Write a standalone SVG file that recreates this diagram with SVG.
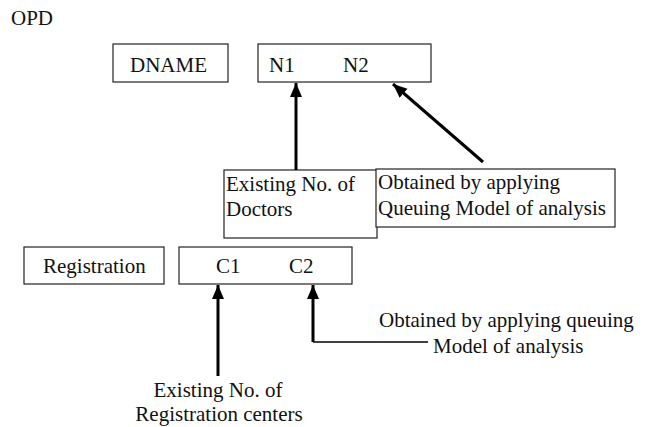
<svg xmlns="http://www.w3.org/2000/svg" width="646" height="427" viewBox="0 0 646 427" font-family="'Liberation Serif', Tinos, 'Times New Roman', 'Nimbus Roman', 'DejaVu Serif', serif" font-size="21">
<style>
text{fill:#111}
.box{fill:#fff;stroke:#222;stroke-width:1.2}
.arr{fill:none;stroke:#000;stroke-width:3;marker-end:url(#ah)}
.thin{fill:none;stroke:#000;stroke-width:1.5}
</style>
<defs>
<marker id="ah" markerUnits="userSpaceOnUse" markerWidth="16" markerHeight="14" refX="14" refY="6" orient="auto">
<path d="M0,0 L14,6 L0,12 z" fill="#000"/>
</marker>
</defs>
<rect width="646" height="427" fill="#fff"/>
<text x="11" y="25">OPD</text>
<g id="dname"><rect class="box" x="113" y="44" width="115" height="38"/><text x="130" y="72">DNAME</text></g>
<g id="n1n2"><rect class="box" x="258" y="44" width="173" height="38"/><text x="269" y="72">N1</text><text x="343" y="72">N2</text></g>
<g id="doctors"><rect class="box" x="224" y="170" width="153" height="68"/><text x="226" y="191">Existing No. of</text><text x="226" y="216">Doctors</text></g>
<g id="queuing1"><rect class="box" x="376" y="169" width="239" height="58"/><text x="378" y="189">Obtained by applying</text><text x="378" y="215">Queuing Model of analysis</text></g>
<g id="registration"><rect class="box" x="24" y="247" width="140" height="37"/><text x="43" y="273">Registration</text></g>
<g id="c1c2"><rect class="box" x="179" y="247" width="173" height="37"/><text x="216" y="273">C1</text><text x="289" y="273">C2</text></g>
<g id="regcenters"><text x="218" y="397" text-anchor="middle">Existing No. of</text><text x="219" y="421" text-anchor="middle">Registration centers</text></g>
<g id="queuing2"><text x="379" y="327">Obtained by applying queuing</text><text x="433" y="353">Model of analysis</text></g>
<g id="connectors">
<line class="arr" x1="296" y1="170" x2="296" y2="83"/>
<line class="arr" x1="483" y1="162" x2="393" y2="84"/>
<line class="arr" x1="218" y1="376" x2="218" y2="285"/>
<polyline class="thin" points="428,342 313,342"/>
<line class="arr" x1="313" y1="342" x2="313" y2="285"/>
</g>
</svg>
